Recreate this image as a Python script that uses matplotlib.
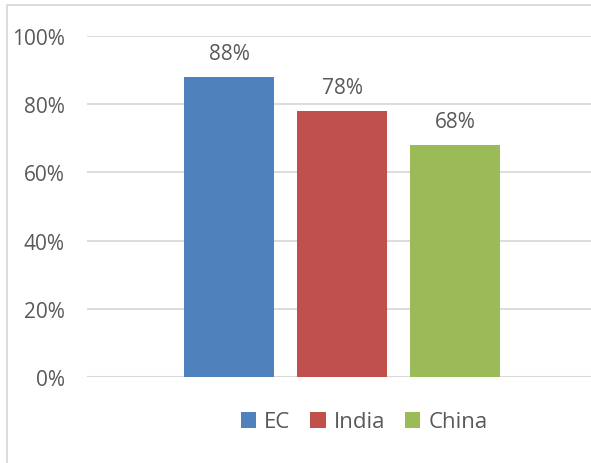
import matplotlib
matplotlib.use("Agg")
import numpy as np
from matplotlib import pyplot as plt
from matplotlib.patches import Rectangle
from matplotlib.ticker import FuncFormatter

plt.rcParams['font.family'] = ['Open Sans', 'DejaVu Sans']

series = ["EC", "India", "China"]
values = [0.88, 0.78, 0.68]
colors = ["#4F81BD", "#C0504D", "#9BBB59"]
yticks = [0, 0.2, 0.4, 0.6, 0.8, 1.0]
text_col = "#595959"
grid_col = "#D9D9D9"

fig = plt.figure(figsize=(5.91, 4.64), dpi=100)
ax = fig.add_axes([87/591, 1-378/464, 1-87/591, (378-37)/464])

pos = np.arange(len(series)) - 1
for i in range(len(series)):
    ax.bar(pos[i], values[i], width=0.79, color=colors[i], label=series[i], zorder=3)
    ax.annotate("{:.0f}%".format(values[i]*100), (pos[i], values[i]), xytext=(0, 9.5),
                textcoords="offset points", ha="center", va="bottom",
                fontsize=15, color=text_col)

ax.set_xlim(-(342-87)/113, (591-342)/113)
ax.set_ylim(0, 1.0)
ax.set_yticks(yticks)
ax.yaxis.set_major_formatter(FuncFormatter(lambda v, p: "{:.0f}%".format(v*100)))
ax.tick_params(axis='y', length=0, pad=16, labelsize=15, labelcolor=text_col)
ax.set_xticks([])
ax.grid(axis='y', color=grid_col, linewidth=1.3, zorder=0)
for s in ax.spines.values():
    s.set_visible(False)
ax.axhline(0, color=grid_col, linewidth=1.5, zorder=2)

fig.legend(loc="center", bbox_to_anchor=(364/591, 1-423/464), ncol=3, frameon=False,
           fontsize=16, labelcolor=text_col, handlelength=0.7, handleheight=0.7,
           handletextpad=0.35, columnspacing=0.9)

fig.patches.append(Rectangle((7/591, -0.1), 1.2, (464-6)/464 + 0.1, transform=fig.transFigure,
                             fill=False, edgecolor=grid_col, linewidth=1.3))

fig.savefig("out.png", dpi=100)
